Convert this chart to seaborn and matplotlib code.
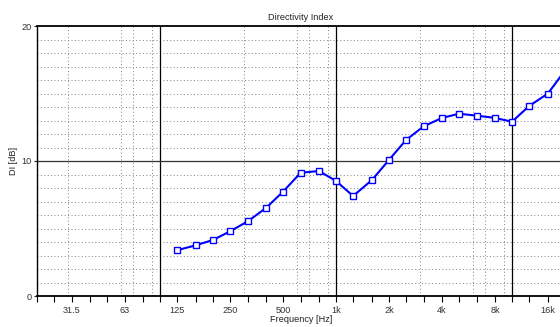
import numpy as np
import pandas as pd
import matplotlib
matplotlib.use("Agg")
import matplotlib.pyplot as plt
import seaborn as sns
from matplotlib.ticker import FixedLocator, NullFormatter

# Daten (Terzbänder)
freq = [125, 160, 200, 250, 315, 400, 500, 630, 800, 1000, 1250, 1600,
        2000, 2500, 3150, 4000, 5000, 6300, 8000, 10000, 12500, 16000, 20000]
di = [3.39, 3.76, 4.15, 4.79, 5.53, 6.52, 7.73, 9.13, 9.26, 8.52, 7.41, 8.59,
      10.08, 11.56, 12.57, 13.19, 13.5, 13.36, 13.19, 12.91, 14.07, 15.0, 16.7]

band_ticks = [20, 25, 31.5, 40, 50, 63, 80, 100, 125, 160, 200, 250, 315, 400,
              500, 630, 800, 1000, 1250, 1600, 2000, 2500, 3150, 4000, 5000,
              6300, 8000, 10000, 12500, 16000, 20000]
label_ticks = {31.5: "31.5", 63: "63", 125: "125", 250: "250", 500: "500",
               1000: "1k", 2000: "2k", 4000: "4k", 8000: "8k", 16000: "16k"}
y_ticks = [0, 10, 20]

df = pd.DataFrame({"Frequency": freq, "DI": di})

sns.set_style("white")
plt.rcParams["font.family"] = ["Liberation Sans", "DejaVu Sans"]
plt.rcParams["font.size"] = 6.6

fig = plt.figure(figsize=(5.6, 3.27), dpi=100)
ax = fig.add_axes([37 / 560, 31 / 327, 528 / 560, 270 / 327])

sns.lineplot(data=df, x="Frequency", y="DI", ax=ax, color="#0000ff",
             linewidth=1.5, marker="s", markersize=4.8, markerfacecolor="white",
             markeredgecolor="#0000ff", markeredgewidth=1.0, zorder=3)

ax.set_xscale("log")
ax.set_xlim(20, 20000)
ax.set_ylim(0, 20)
ax.set_xticks(band_ticks)
ax.set_xticklabels([label_ticks.get(t, "") for t in band_ticks])
ax.set_yticks(y_ticks)

# Gitter
minor_x = [m * 10 ** e for e in range(1, 5) for m in range(2, 10)]
ax.xaxis.set_minor_locator(FixedLocator(minor_x))
ax.xaxis.set_minor_formatter(NullFormatter())
ax.yaxis.set_minor_locator(FixedLocator([v for v in range(1, 20) if v != 10]))
ax.grid(which="major", visible=False)
ax.grid(which="minor", color="#808080", linestyle=(0, (1, 2.5)), linewidth=0.7)
for f in [100, 1000, 10000]:
    ax.axvline(f, color="black", linewidth=0.9, zorder=1)
ax.axhline(10, color="#333333", linewidth=0.9, zorder=1)

ax.tick_params(axis="x", which="major", direction="out", length=4, width=0.8,
               pad=3, colors="black", labelcolor="#333333", bottom=True)
ax.tick_params(axis="both", which="minor", length=0)
ax.tick_params(axis="y", which="major", direction="out", length=2, width=0.8,
               pad=2, left=True, labelcolor="#333333")

for s in ["top", "bottom", "left", "right"]:
    ax.spines[s].set_color("black")
    ax.spines[s].set_linewidth(1.3)
ax.spines["left"].set_linewidth(1.0)

ax.set_title("Directivity Index", fontsize=6.6, pad=4, color="#222222")
ax.set_xlabel("Frequency [Hz]", labelpad=0, color="#222222")
ax.set_ylabel("DI [dB]", labelpad=2, color="#222222")

fig.savefig("out.png", dpi=100)
